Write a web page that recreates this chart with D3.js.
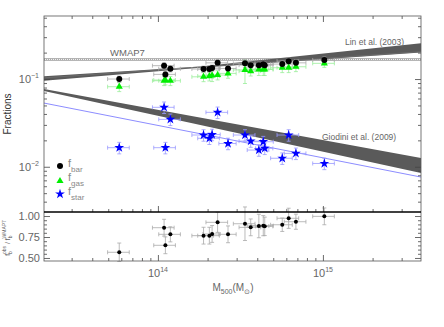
<!DOCTYPE html>
<html>
<head>
<meta charset="utf-8">
<script src="https://cdn.jsdelivr.net/npm/d3@7"></script>
<style>
  body { margin: 0; background: #fff; }
  text { font-family: "Liberation Sans", Arial, sans-serif; }
</style>
</head>
<body>
<div id="chart"></div>
<script>
// cluster masses (M_sun) and fractions
var mass = [5.83e13, 1.09e14, 1.11e14, 1.19e14, 1.89e14, 2.05e14, 2.13e14, 2.30e14, 2.66e14,
            3.37e14, 3.65e14, 4.09e14, 4.35e14, 4.44e14, 5.67e14, 6.20e14, 6.86e14, 1.02e15];
var massErr = [0.15, 0.15, 0.15, 0.15, 0.15, 0.15, 0.12, 0.15, 0.12, 0.15, 0.15, 0.15, 0.15, 0.12, 0.15, 0.15, 0.15, 0.15];
var fBar = [0.100, 0.142, 0.113, 0.131, 0.130, 0.130, 0.1335, 0.153, 0.132,
            0.151, 0.144, 0.144, 0.147, 0.144, 0.148, 0.160, 0.153, 0.165];
var fGas = [0.0817, 0.0956, 0.0974, 0.0956, 0.106, 0.108, 0.110, 0.111, 0.116,
            0.127, 0.123, 0.129, 0.129, 0.129, 0.1345, 0.1345, 0.138, 0.151];
var fStar = [0.0165, 0.0476, 0.0165, 0.0347, 0.0230, 0.0211, 0.0233, 0.0417, 0.0184,
             0.0230, 0.0196, 0.0155, 0.0193, 0.0162, 0.0125, 0.0230, 0.0142, 0.0109];
var barErr = [0.08, 0.08, 0.08, 0.08, 0.08, 0.08, 0.08, 0.08, 0.08, 0.1, 0.08, 0.08, 0.08, 0.08, 0.08, 0.08, 0.08, 0.08];
var gasErr = [0.12, 0.12, 0.12, 0.12, 0.12, 0.12, 0.15, 0.12, 0.12, 0.3, 0.12, 0.15, 0.15, 0.15, 0.12, 0.12, 0.12, 0.1];
var starErr = [0.15, 0.15, 0.15, 0.15, 0.15, 0.15, 0.15, 0.15, 0.15, 0.15, 0.15, 0.15, 0.15, 0.15, 0.15, 0.15, 0.15, 0.15];
var ratio = [0.568, 0.861, 0.651, 0.782, 0.766, 0.766, 0.786, 0.925, 0.782,
             0.908, 0.865, 0.881, 0.885, 0.877, 0.896, 0.973, 0.932, 0.996];
var ratioErr = [0.11, 0.1, 0.1, 0.09, 0.1, 0.1, 0.1, 0.12, 0.1, 0.2, 0.1, 0.14, 0.12, 0.11, 0.08, 0.12, 0.09, 0.1];

// reference relations: [mass, fraction] end points
var wmap7 = 0.167, wmap7Err = 0.004;
var linUpper = [[2.04e13, 0.1075], [1.8e14, 0.139], [3.93e15, 0.255]];
var linLower = [[2.04e13, 0.0955], [1.8e14, 0.1345], [3.93e15, 0.200]];
var barFit = [[2.04e13, 0.103], [3.93e15, 0.205]];
var giodiniUpper = [[2.04e13, 0.0769], [3.93e15, 0.01257]];
var giodiniLower = [[2.04e13, 0.0730], [3.93e15, 0.00848]];
var starFit = [[2.04e13, 0.0532], [3.93e15, 0.00763]];

var xMinor = [3e13, 4e13, 5e13, 6e13, 7e13, 8e13, 9e13, 2e14, 3e14, 4e14, 5e14, 6e14, 7e14, 8e14, 9e14, 2e15, 3e15];
var xMajor = [1e14, 1e15];
var yMinor = [4e-3, 5e-3, 6e-3, 7e-3, 8e-3, 9e-3, 2e-2, 3e-2, 4e-2, 5e-2, 6e-2, 7e-2, 8e-2, 9e-2, 0.2, 0.3, 0.4, 0.5];
var yMajor = [0.01, 0.1];
var rMajor = [0.5, 0.75, 1.0];
var rMinor = [0.55, 0.6, 0.65, 0.7, 0.8, 0.85, 0.9, 0.95];

var W = 444, H = 327;
var L = 44, R = 421, T = 16, MB = 212, B = 261;

var svg = d3.select('#chart').append('svg')
    .attr('width', W).attr('height', H);

var X = d3.scaleLog().domain([2.04e13, 3.93e15]).range([L, R]);
var Y = d3.scaleLog().domain([0.00305, 0.523]).range([MB, T]);
var Yr = d3.scaleLinear().domain([0.464, 1.048]).range([B, MB]);

var clipMain = svg.append('clipPath').attr('id', 'cm');
clipMain.append('rect').attr('x', L).attr('y', T).attr('width', R - L).attr('height', MB - T);

var main = svg.append('g').attr('clip-path', 'url(#cm)');

// WMAP7 band
[wmap7 - wmap7Err, wmap7 + wmap7Err].forEach(function (v) {
  main.append('line')
      .attr('x1', L).attr('x2', R).attr('y1', Y(v)).attr('y2', Y(v))
      .attr('stroke', '#999').attr('stroke-width', 0.8);
});
main.append('line')
    .attr('x1', L).attr('x2', R).attr('y1', Y(wmap7)).attr('y2', Y(wmap7))
    .attr('stroke', '#aaa').attr('stroke-width', 1).attr('stroke-dasharray', '1,1');

var line = d3.line().x(function (d) { return X(d[0]); }).y(function (d) { return Y(d[1]); });

function band(up, lo) {
  return line(up.concat(lo.slice().reverse())) + 'Z';
}

main.append('path').attr('d', band(linUpper, linLower)).attr('fill', '#5a5a5a');
main.append('path').attr('d', line(barFit)).attr('fill', 'none').attr('stroke', '#777').attr('stroke-width', 0.6);
main.append('path').attr('d', band(giodiniUpper, giodiniLower)).attr('fill', '#5a5a5a');
main.append('path').attr('d', line(starFit)).attr('fill', 'none').attr('stroke', '#6f6fff').attr('stroke-width', 0.8);

// error bars
function errBars(g, vals, errs, yScale, color, rel) {
  mass.forEach(function (m, i) {
    var x = X(m), y = yScale(vals[i]);
    var x1 = X(m * (1 - massErr[i])), x2 = X(m * (1 + massErr[i]));
    var y1, y2;
    if (rel) { y1 = yScale(vals[i] * (1 - errs[i])); y2 = yScale(vals[i] * (1 + errs[i])); }
    else { y1 = yScale(vals[i] - errs[i]); y2 = yScale(vals[i] + errs[i]); }
    var e = g.append('g').attr('stroke', color).attr('stroke-width', 0.8).attr('fill', 'none');
    e.append('line').attr('x1', x1).attr('x2', x2).attr('y1', y).attr('y2', y);
    e.append('line').attr('x1', x).attr('x2', x).attr('y1', y1).attr('y2', y2);
    e.append('line').attr('x1', x1).attr('x2', x1).attr('y1', y - 2).attr('y2', y + 2);
    e.append('line').attr('x1', x2).attr('x2', x2).attr('y1', y - 2).attr('y2', y + 2);
    e.append('line').attr('x1', x - 2).attr('x2', x + 2).attr('y1', y1).attr('y2', y1);
    e.append('line').attr('x1', x - 2).attr('x2', x + 2).attr('y1', y2).attr('y2', y2);
  });
}

errBars(main, fStar, starErr, Y, '#9999ff', true);
errBars(main, fGas, gasErr, Y, '#99ee99', true);
errBars(main, fBar, barErr, Y, '#aaaaaa', true);

var star = d3.symbol().type(d3.symbolStar).size(30);
var tri = d3.symbol().type(d3.symbolTriangle).size(22);

main.selectAll('.star').data(mass).enter().append('path')
    .attr('d', star)
    .attr('transform', function (d, i) { return 'translate(' + X(d) + ',' + Y(fStar[i]) + ')'; })
    .attr('fill', '#0000ff');
main.selectAll('.gas').data(mass).enter().append('path')
    .attr('d', tri)
    .attr('transform', function (d, i) { return 'translate(' + X(d) + ',' + Y(fGas[i]) + ')'; })
    .attr('fill', '#00ee00');
main.selectAll('.bar').data(mass).enter().append('circle')
    .attr('cx', function (d) { return X(d); })
    .attr('cy', function (d, i) { return Y(fBar[i]); })
    .attr('r', 3).attr('fill', '#000');

// bottom panel
var bot = svg.append('g');
errBars(bot, ratio, ratioErr, Yr, '#aaaaaa', false);
bot.selectAll('.rat').data(mass).enter().append('circle')
    .attr('cx', function (d) { return X(d); })
    .attr('cy', function (d, i) { return Yr(ratio[i]); })
    .attr('r', 2).attr('fill', '#000');

// annotations
var grey = '#666';
svg.append('text').attr('x', 110).attr('y', 56).attr('font-size', '9.5px').attr('fill', grey).text('WMAP7');
svg.append('text').attr('x', 345).attr('y', 45).attr('font-size', '8.5px').attr('fill', grey).text('Lin et al. (2003)');
svg.append('text').attr('x', 322).attr('y', 140).attr('font-size', '8.5px').attr('fill', grey).text('Giodini et al. (2009)');

// legend
var leg = svg.append('g');
leg.append('circle').attr('cx', 60).attr('cy', 166).attr('r', 3).attr('fill', '#000');
leg.append('path').attr('d', tri).attr('transform', 'translate(60,181)').attr('fill', '#00ee00');
leg.append('path').attr('d', star).attr('transform', 'translate(60,194)').attr('fill', '#0000ff');
[['bar', 166], ['gas', 180], ['star', 194]].forEach(function (d) {
  var t = leg.append('text').attr('x', 68).attr('y', d[1] + 1).attr('font-size', '11px').attr('fill', '#888');
  t.append('tspan').text('f');
  t.append('tspan').attr('dy', 5).attr('font-size', '8px').text(d[0]);
});

// axes with inward ticks
function ticks(axis, scale, vals, size, tr) {
  svg.append('g').attr('transform', tr)
      .call(axis(scale).tickValues(vals).tickSize(-size).tickFormat(''))
      .call(function (g) { g.select('.domain').remove(); g.selectAll('line').attr('stroke', '#444').attr('stroke-width', 0.8); });
}
ticks(d3.axisBottom, X, xMajor, 6, 'translate(0,' + MB + ')');
ticks(d3.axisBottom, X, xMinor, 3, 'translate(0,' + MB + ')');
ticks(d3.axisTop, X, xMajor, 6, 'translate(0,' + T + ')');
ticks(d3.axisTop, X, xMinor, 3, 'translate(0,' + T + ')');
ticks(d3.axisLeft, Y, yMajor, 6, 'translate(' + L + ',0)');
ticks(d3.axisLeft, Y, yMinor, 3, 'translate(' + L + ',0)');
ticks(d3.axisRight, Y, yMajor, 6, 'translate(' + R + ',0)');
ticks(d3.axisRight, Y, yMinor, 3, 'translate(' + R + ',0)');
ticks(d3.axisBottom, X, xMajor, 6, 'translate(0,' + B + ')');
ticks(d3.axisBottom, X, xMinor, 3, 'translate(0,' + B + ')');
ticks(d3.axisLeft, Yr, rMajor, 6, 'translate(' + L + ',0)');
ticks(d3.axisLeft, Yr, rMinor, 3, 'translate(' + L + ',0)');
ticks(d3.axisRight, Yr, rMajor, 6, 'translate(' + R + ',0)');
ticks(d3.axisRight, Yr, rMinor, 3, 'translate(' + R + ',0)');

// frames
svg.append('rect').attr('x', L).attr('y', T).attr('width', R - L).attr('height', B - T)
    .attr('fill', 'none').attr('stroke', '#555').attr('stroke-width', 0.8);
svg.append('line').attr('x1', L).attr('x2', R).attr('y1', MB).attr('y2', MB)
    .attr('stroke', '#000').attr('stroke-width', 1.3);

// tick labels
yMajor.forEach(function (v) {
  var t = svg.append('text').attr('x', 39).attr('y', Y(v) + 4).attr('text-anchor', 'end')
      .attr('font-size', '11px').attr('fill', grey);
  t.append('tspan').text('10');
  t.append('tspan').attr('dy', -5).attr('font-size', '7px').text('\u2212' + (-Math.log10(v)));
});
rMajor.forEach(function (v) {
  svg.append('text').attr('x', 40).attr('y', Yr(v) + 4).attr('text-anchor', 'end')
      .attr('font-size', '11px').attr('fill', grey).text(v.toFixed(2));
});
xMajor.forEach(function (v) {
  var t = svg.append('text').attr('x', X(v)).attr('y', 277).attr('text-anchor', 'middle')
      .attr('font-size', '11px').attr('fill', grey);
  t.append('tspan').text('10');
  t.append('tspan').attr('dy', -5).attr('font-size', '7px').text(Math.round(Math.log10(v)));
});

// axis titles
var xt = svg.append('text').attr('x', 233).attr('y', 291).attr('text-anchor', 'middle')
    .attr('font-size', '10px').attr('fill', grey);
xt.append('tspan').text('M');
xt.append('tspan').attr('dy', 3).attr('font-size', '7px').text('500');
xt.append('tspan').attr('dy', -3).text('(M');
xt.append('tspan').attr('dy', 3).attr('font-size', '7px').text('\u2299');
xt.append('tspan').attr('dy', -3).text(')');

svg.append('text').attr('transform', 'translate(11,114) rotate(-90)').attr('text-anchor', 'middle')
    .attr('font-size', '10px').attr('fill', '#333').text('Fractions');

var yt = svg.append('text').attr('transform', 'translate(10,238) rotate(-90)').attr('text-anchor', 'middle')
    .attr('font-size', '7px').attr('fill', grey);
yt.append('tspan').text('f');
yt.append('tspan').attr('dy', 2).attr('font-size', '5px').text('b');
yt.append('tspan').attr('dy', -6).attr('dx', -3).attr('font-size', '5px').text('obs');
yt.append('tspan').attr('dy', 4).text(' / f');
yt.append('tspan').attr('dy', 2).attr('font-size', '5px').text('b');
yt.append('tspan').attr('dy', -6).attr('dx', -3).attr('font-size', '5px').text('WMAP7');
</script>
</body>
</html>
